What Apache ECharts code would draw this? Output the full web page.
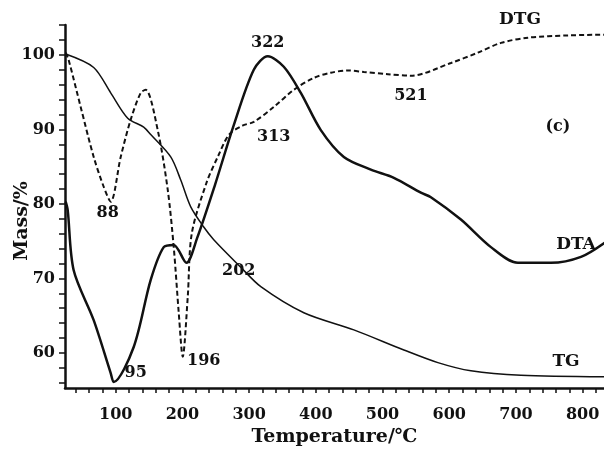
<!DOCTYPE html>
<html><head><meta charset="utf-8">
<script src="https://cdn.jsdelivr.net/npm/echarts@6/dist/echarts.min.js"></script>
<style>html,body{margin:0;padding:0;background:#fff}#c{width:604px;height:449px}</style>
</head><body><div id="c"></div>
<script>
const tgT   = [25, 67, 92.5, 118, 142, 152.5, 182.5, 197.5, 212.5, 232, 247, 287.5, 317.5, 382, 457, 532, 583, 632.5, 707.5, 833];
const tgM   = [100.1, 98.3, 94.9, 91.5, 90.3, 89.3, 86.3, 83.2, 79.6, 76.9, 75.2, 71.5, 68.9, 65.4, 63.1, 60.4, 58.7, 57.6, 57.0, 56.8];
const dtaT  = [25, 28, 37, 67, 92.5, 97, 127, 152.5, 172, 187, 206, 222, 249, 276, 307, 328, 352, 377.5, 407.5, 442, 482.5, 517, 557.5, 572.5, 617.5, 662.5, 703, 752.5, 797.5, 833];
const dtaV  = [80.3, 79.2, 71.1, 64.4, 57.3, 56.1, 60.8, 69.8, 74.2, 74.5, 72.1, 75.4, 82.6, 90.3, 98.0, 99.8, 98.4, 94.9, 89.9, 86.3, 84.6, 83.5, 81.5, 80.9, 77.9, 74.2, 72.1, 72.1, 72.9, 74.8];
const dtgT  = [25, 29.5, 47.5, 67, 82, 92.5, 107.5, 122.5, 137.5, 145, 163, 178, 187, 194.5, 200.5, 208, 214, 236, 254, 270, 290, 307, 337, 367, 397, 422.5, 448, 472, 508, 542.5, 602.5, 643, 677.5, 718, 778, 833];
const dtgV  = [100.3, 99.3, 93.0, 86.3, 82.3, 80.3, 86.3, 91.3, 94.9, 95.3, 89.9, 81.9, 74.2, 65.4, 59.5, 67.5, 76.0, 82.8, 86.5, 89.3, 90.5, 91.0, 93.0, 95.3, 96.9, 97.6, 97.9, 97.7, 97.4, 97.2, 98.9, 100.3, 101.6, 102.3, 102.6, 102.7];
const xTickLabels = [100, 200, 300, 400, 500, 600, 700, 800];
const yTickLabels = [60, 70, 80, 90, 100];
const xMinorTicks = [40,60,80,100,120,140,160,180,200,220,240,260,280,300,320,340,360,380,400,420,440,460,480,500,520,540,560,580,600,620,640,660,680,700,720,740,760,780,800,820];
const yMinorTicks = [56,58,60,62,64,66,68,70,72,74,76,78,80,82,84,86,88,90,92,94,96,98,100,102,104];
const annText = ['322', '313', '88', '95', '202', '196', '521', 'DTG', 'DTA', 'TG', '(c)'];
const annT    = [328, 337, 88, 130, 284.5, 232, 542.5, 706, 790, 775, 763];
const annV    = [101.6, 89.0, 78.8, 57.4, 71.0, 58.9, 94.5, 104.7, 74.6, 58.8, 90.3];
const annSize = [16, 16, 16, 16, 16, 16, 16, 17, 17, 17, 16];

function zip(a, b) { const r = []; for (let i = 0; i < a.length; i++) r.push([a[i], b[i]]); return r; }
const FONT = '"DejaVu Serif","Liberation Serif",serif';
const INK = '#111';
const chart = echarts.init(document.getElementById('c'), null, { renderer: 'canvas' });
chart.setOption({
  backgroundColor: '#fff',
  animation: false,
  grid: { left: 65, right: 0, top: 25, bottom: 61, containLabel: false, outerBoundsMode: 'none' },
  xAxis: {
    type: 'value', min: 24, max: 832,
    name: 'Temperature/℃', nameLocation: 'middle', nameGap: 37,
    nameTextStyle: { fontFamily: FONT, fontWeight: 'bold', fontSize: 19, color: INK },
    axisLine: { show: true, lineStyle: { color: INK, width: 2.5 } },
    axisTick: { show: true, length: 5, lineStyle: { color: INK, width: 1.5 }, customValues: xMinorTicks },
    axisLabel: { customValues: xTickLabels, fontFamily: FONT, fontWeight: 'bold', fontSize: 16, color: INK, margin: 19 },
    splitLine: { show: false }
  },
  yAxis: {
    type: 'value', min: 55.3, max: 104,
    axisLine: { show: true, lineStyle: { color: INK, width: 2.5 } },
    axisTick: { show: true, length: 6, lineStyle: { color: INK, width: 1.5 }, customValues: yMinorTicks },
    axisLabel: { customValues: yTickLabels, fontFamily: FONT, fontWeight: 'bold', fontSize: 16, color: INK, margin: 10 },
    splitLine: { show: false }
  },
  series: [
    { name: 'TG', type: 'line', data: zip(tgT, tgM), smooth: 0.3, symbol: 'none', clip: true,
      lineStyle: { color: INK, width: 1.5 } },
    { name: 'DTA', type: 'line', data: zip(dtaT, dtaV), smooth: 0.3, symbol: 'none', clip: true,
      lineStyle: { color: INK, width: 2.5 } },
    { name: 'DTG', type: 'line', data: zip(dtgT, dtgV), smooth: 0.3, symbol: 'none', clip: true,
      lineStyle: { color: INK, width: 2, type: [5, 3] } }
  ]
});
const g = annText.map((t, i) => {
  const p = chart.convertToPixel({ gridIndex: 0 }, [annT[i], annV[i]]);
  return { type: 'text', x: p[0], y: p[1],
    style: { text: t, fontFamily: FONT, fontWeight: 'bold', fontSize: annSize[i], fill: INK, align: 'center', verticalAlign: 'middle' } };
});
g.push({ type: 'text', x: 22, y: 221, rotation: Math.PI / 2,
  style: { text: 'Mass/%', fontFamily: FONT, fontWeight: 'bold', fontSize: 19, fill: INK, align: 'center', verticalAlign: 'middle' } });
chart.setOption({ graphic: g });
</script></body></html>
